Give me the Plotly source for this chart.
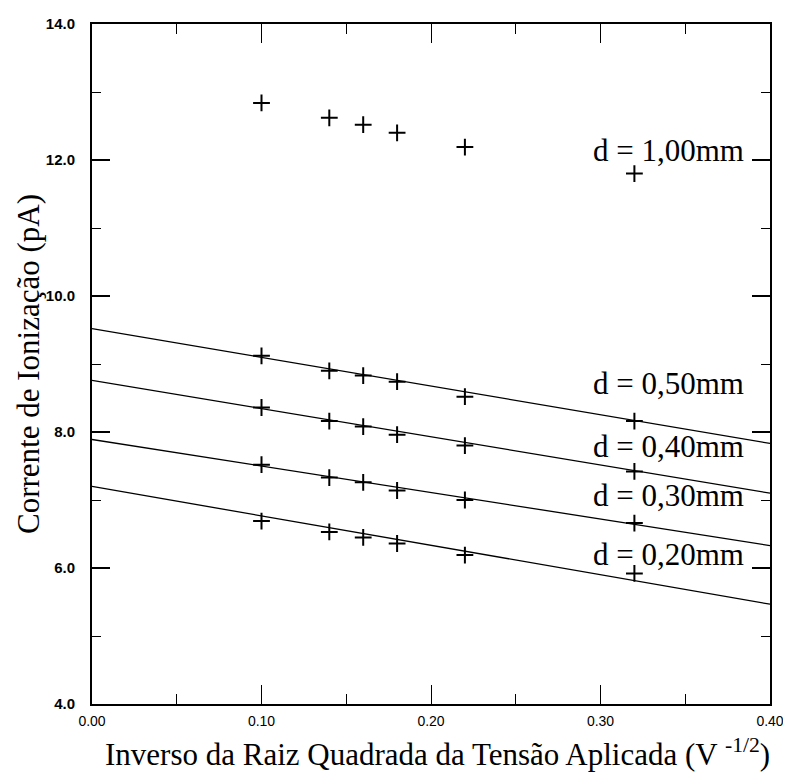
import numpy as np
import plotly.graph_objects as go

# ---- data ----
x_vals = [0.10, 0.14, 0.16, 0.18, 0.22, 0.32]
series_names = ["d = 1,00mm", "d = 0,50mm", "d = 0,40mm", "d = 0,30mm", "d = 0,20mm"]
d100 = [12.84, 12.62, 12.52, 12.40, 12.19, 11.80]
d050 = [9.12, 8.90, 8.83, 8.74, 8.52, 8.16]
d040 = [8.36, 8.16, 8.08, 7.96, 7.80, 7.42]
d030 = [7.52, 7.33, 7.26, 7.14, 7.00, 6.66]
d020 = [6.69, 6.53, 6.45, 6.36, 6.19, 5.92]
# linear fits (intercept, slope); d=1,00mm has none
fit_intercept = [None, 9.52, 8.76, 7.89, 7.20]
fit_slope = [None, -4.22, -4.15, -3.90, -4.33]
label_y = [12.14, 8.72, 7.78, 7.06, 6.20]

x_range = [0.0, 0.40]
y_range = [4.0, 14.0]
x_ticks = [0.0, 0.1, 0.2, 0.3, 0.4]
x_ticktext = ["0.00", "0.10", "0.20", "0.30", "0.40"]
y_ticks = [4, 6, 8, 10, 12, 14]
y_ticktext = ["4.0", "6.0", "8.0", "10.0", "12.0", "14.0"]

series = [d100, d050, d040, d030, d020]

fig = go.Figure()
xl = np.array(x_range)
for i, ys in enumerate(series):
    if fit_intercept[i] is not None:
        fig.add_trace(go.Scatter(
            x=xl, y=fit_intercept[i] + fit_slope[i] * xl, mode="lines",
            line=dict(color="black", width=1.3), showlegend=False, hoverinfo="skip"))
    fig.add_trace(go.Scatter(
        x=x_vals, y=ys, mode="markers", name=series_names[i],
        marker=dict(symbol="cross-thin", size=12, line=dict(color="black", width=2)),
        showlegend=False))
    fig.add_annotation(x=0.386, y=label_y[i], xref="x", yref="y",
                       text=series_names[i], showarrow=False,
                       xanchor="right", yanchor="middle",
                       font=dict(family="Liberation Serif", size=31, color="black"))

xtickfont = dict(family="Liberation Sans", size=14, color="black")
ytickfont = dict(family="Liberation Sans", size=15, color="black", weight="bold")
fig.update_xaxes(range=x_range, tickvals=x_ticks, ticktext=x_ticktext,
                 ticks="inside", ticklen=19, tickwidth=1, tickcolor="black",
                 minor=dict(dtick=0.05, ticks="inside", ticklen=10, tickcolor="black", tickwidth=1),
                 showline=True, linecolor="black", linewidth=2, mirror="allticks",
                 showgrid=False, zeroline=False, tickfont=xtickfont, ticklabelstandoff=3)
fig.update_yaxes(range=y_range, tickvals=y_ticks, ticktext=y_ticktext,
                 ticks="inside", ticklen=18, tickwidth=1.5, tickcolor="black",
                 minor=dict(dtick=1, ticks="inside", ticklen=9, tickcolor="black", tickwidth=1),
                 showline=True, linecolor="black", linewidth=2, mirror="allticks",
                 showgrid=False, zeroline=False, tickfont=ytickfont, ticklabelstandoff=12)

fig.add_annotation(xref="paper", yref="paper", x=0, y=0.5, xshift=-64,
                   text="Corrente de Ionização (pA)", textangle=-90, showarrow=False,
                   xanchor="center", yanchor="middle",
                   font=dict(family="Liberation Serif", size=31, color="black"))
fig.add_annotation(xref="paper", yref="paper", x=0.51, y=0, yshift=-48,
                   text="Inverso da Raiz Quadrada da Tensão Aplicada (V <sup>-1/2</sup>)",
                   showarrow=False, xanchor="center", yanchor="middle",
                   font=dict(family="Liberation Serif", size=31, color="black"))

# page body has an 8px margin: shrink the figure so the plot lands where the reference's does
fig.update_layout(width=783, height=765, margin=dict(l=84, r=15, t=7, b=69),
                  plot_bgcolor="white", paper_bgcolor="white")
fig.write_html("out.html")
